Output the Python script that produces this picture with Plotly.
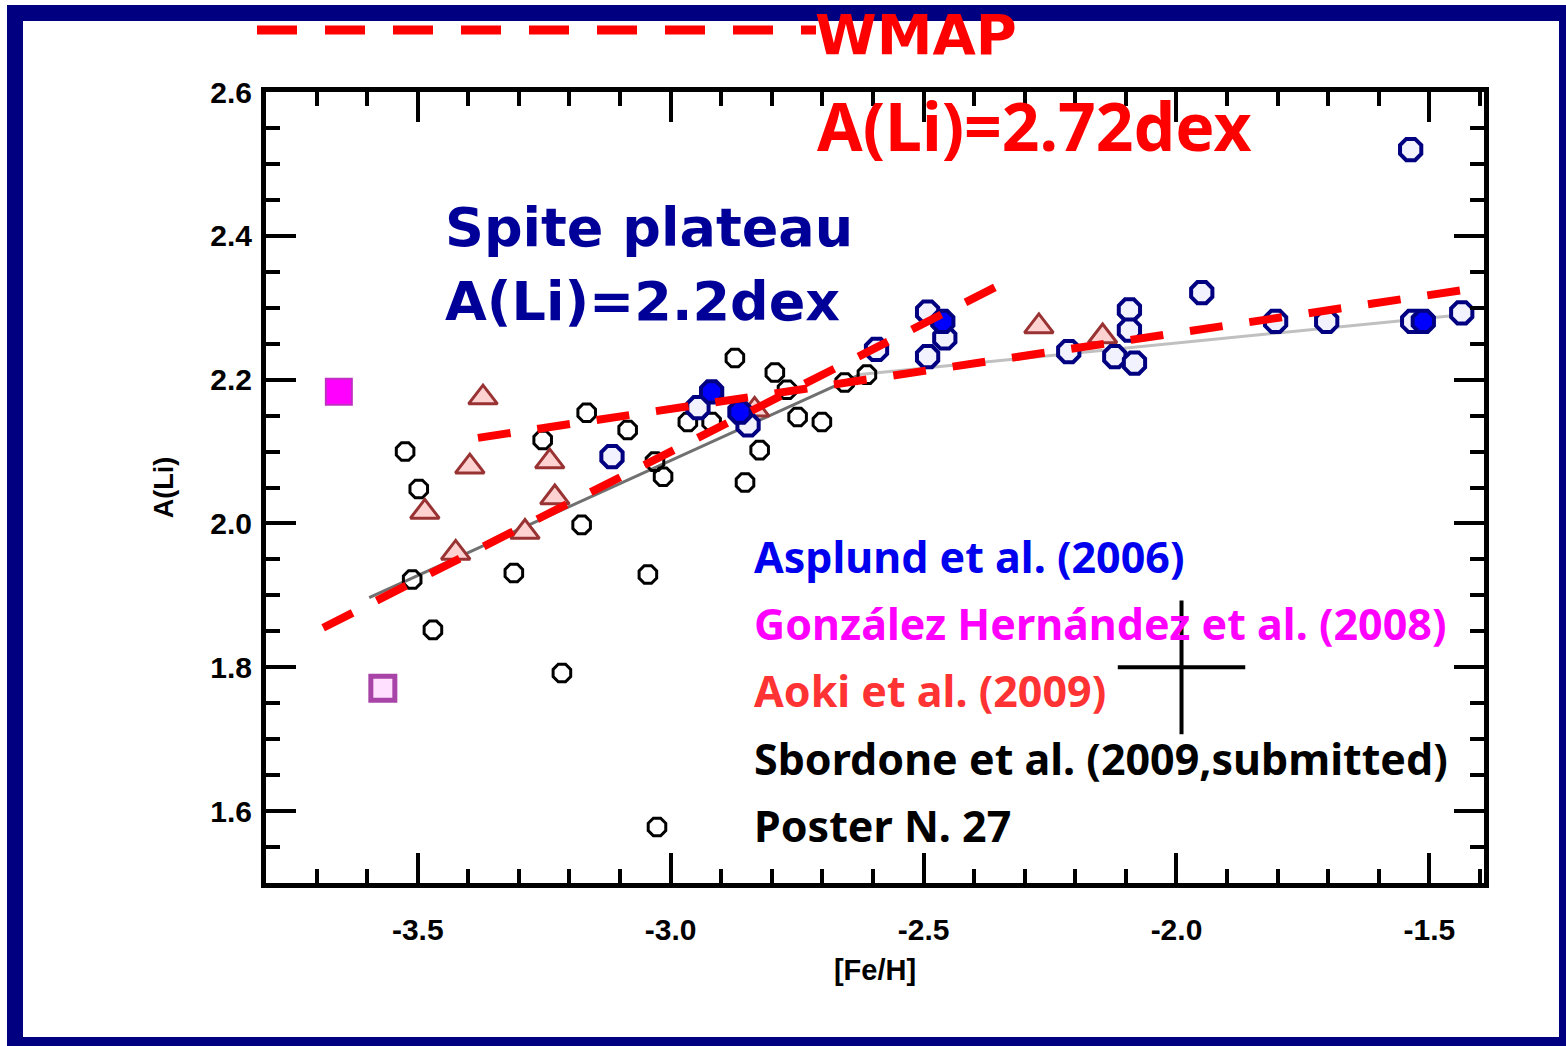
import plotly.graph_objects as go

# ---------------- data ----------------
sbordone_feh = [-3.525, -3.498, -3.511, -3.470, -3.253, -3.166, -3.085, -3.176, -3.310,
                -3.215, -3.045, -3.027, -3.031, -3.015, -2.873, -2.794, -2.770, -2.966,
                -2.919, -2.824, -2.853, -2.749, -2.701, -2.656, -2.612]
sbordone_li = [2.100, 2.048, 1.922, 1.852, 2.116, 2.154, 2.130, 1.998, 1.931,
               1.792, 1.929, 1.578, 2.086, 2.065, 2.230, 2.210, 2.186, 2.141,
               2.141, 2.102, 2.057, 2.148, 2.141, 2.196, 2.207]

aoki_feh = [-3.371, -3.397, -3.486, -3.425, -3.239, -3.229, -3.288, -2.834, -2.272, -2.146]
aoki_li = [2.175, 2.079, 2.016, 1.959, 2.086, 2.036, 1.988, 2.158, 2.274, 2.260]

asplund_open_feh = [-3.116, -2.946, -2.847, -2.593, -2.492, -2.458, -2.492, -2.213, -2.093,
                    -2.093, -2.122, -2.083, -1.950, -1.804, -1.703, -1.533, -1.436, -1.537]
asplund_open_li = [2.093, 2.161, 2.137, 2.242, 2.294, 2.258, 2.232, 2.239, 2.297,
                   2.269, 2.232, 2.223, 2.321, 2.281, 2.281, 2.281, 2.293, 2.520]
asplund_filled_feh = [-2.919, -2.863, -2.462, -1.512]
asplund_filled_li = [2.183, 2.155, 2.281, 2.281]

gonzalez_filled_feh = [-3.656]
gonzalez_filled_li = [2.183]
gonzalez_open_feh = [-3.569]
gonzalez_open_li = [1.771]

fit_steep_feh = [-3.687, -2.340]
fit_steep_li = [1.855, 2.335]
fit_flat_feh = [-3.381, -1.392]
fit_flat_li = [2.119, 2.329]
gray_dark_feh = [-3.596, -2.626]
gray_dark_li = [1.897, 2.207]
gray_light_feh = [-2.626, -1.440]
gray_light_li = [2.207, 2.290]

err_feh = [-1.99]
err_li = [1.80]
err_dfeh = [0.126]
err_dli = [0.093]

x_tickvals = [-3.5, -3.0, -2.5, -2.0, -1.5]
x_ticktext = ["-3.5", "-3.0", "-2.5", "-2.0", "-1.5"]
y_tickvals = [1.6, 1.8, 2.0, 2.2, 2.4, 2.6]
y_ticktext = ["1.6", "1.8", "2.0", "2.2", "2.4", "2.6"]

legend_labels = ["Asplund et al. (2006)", "González Hernández et al. (2008)",
                 "Aoki et al. (2009)", "Sbordone et al. (2009,submitted)", "Poster N. 27"]

# ---------------- layout helpers ----------------
W, H = 1566, 1046
ML, MR, MT, MB = 266, 82, 92, 163
PW = W - ML - MR
PH = H - MT - MB


def px_x(px):
    return (px - ML) / PW


def px_y(py):
    return (H - MB - py) / PH


TEXT_FONT = "Noto Sans, DejaVu Sans, sans-serif"
WIDE_FONT = "DejaVu Sans, Noto Sans, sans-serif"
AX_FONT = "Liberation Sans, Arial, sans-serif"
NAVY = "#000080"

fig = go.Figure()

# thin grey lines
fig.add_trace(go.Scatter(x=gray_dark_feh, y=gray_dark_li, mode="lines",
                         line=dict(color="#707070", width=3), showlegend=False, hoverinfo="skip"))
fig.add_trace(go.Scatter(x=gray_light_feh, y=gray_light_li, mode="lines",
                         line=dict(color="#c0c0c0", width=3), showlegend=False, hoverinfo="skip"))

# data points
fig.add_trace(go.Scatter(x=sbordone_feh, y=sbordone_li, mode="markers", name=legend_labels[3],
                         marker=dict(symbol="octagon-open", size=19, color="black",
                                     line=dict(width=3, color="black")), showlegend=False))
fig.add_trace(go.Scatter(x=aoki_feh, y=aoki_li, mode="markers", name=legend_labels[2],
                         marker=dict(symbol="triangle-up", size=25, color="#ffd2d2",
                                     line=dict(width=3, color="#993333")), showlegend=False))
fig.add_trace(go.Scatter(x=asplund_open_feh, y=asplund_open_li, mode="markers", name=legend_labels[0],
                         marker=dict(symbol="octagon", size=23, color="#f2f2ff",
                                     line=dict(width=4, color=NAVY)), showlegend=False))
fig.add_trace(go.Scatter(x=asplund_filled_feh, y=asplund_filled_li, mode="markers", name=legend_labels[0],
                         marker=dict(symbol="octagon", size=23, color="#0000ff",
                                     line=dict(width=4, color=NAVY)), showlegend=False))
fig.add_trace(go.Scatter(x=gonzalez_filled_feh, y=gonzalez_filled_li, mode="markers", name=legend_labels[1],
                         marker=dict(symbol="square", size=26, color="#ff00ff",
                                     line=dict(width=2, color="#c030c0")), showlegend=False))
fig.add_trace(go.Scatter(x=gonzalez_open_feh, y=gonzalez_open_li, mode="markers", name=legend_labels[1],
                         marker=dict(symbol="square", size=24, color="#ffe0ff",
                                     line=dict(width=5, color="#a844a8")), showlegend=False))

# red dashed fits
for fx, fy in ((fit_steep_feh, fit_steep_li), (fit_flat_feh, fit_flat_li)):
    fig.add_trace(go.Scatter(x=fx, y=fy, mode="lines",
                             line=dict(color="#ff0000", width=8, dash="33px,27px"),
                             showlegend=False, hoverinfo="skip"))

# typical error cross
fig.add_trace(go.Scatter(x=err_feh, y=err_li, mode="markers",
                         marker=dict(size=1, color="rgba(0,0,0,0)"),
                         error_x=dict(type="data", array=err_dfeh, color="black", thickness=4, width=0),
                         error_y=dict(type="data", array=err_dli, color="black", thickness=4, width=0),
                         showlegend=False))

# ---------------- annotations ----------------
ann = []


def text(px, py, s, color, size, family=TEXT_FONT):
    ann.append(dict(x=px_x(px), y=px_y(py), xref="paper", yref="paper", text=s,
                    showarrow=False, xanchor="left", yanchor="middle", align="left",
                    font=dict(family=family, size=size, color=color)))


text(813, 34, "<b>WMAP</b>", "#ff0000", 56, WIDE_FONT)
text(815, 125, "<b>A(Li)=2.72dex</b>", "#ff0000", 66)
text(443, 228, "<b>Spite plateau</b>", "#000099", 54, WIDE_FONT)
text(443, 301, "<b>A(Li)=2.2dex</b>", "#000099", 54, WIDE_FONT)

legend_colors = ["#0000ee", "#ff00ff", "#ff3333", "#000000", "#000000"]
legend_y = [556, 623, 690, 758, 825]
for lab, col, yy in zip(legend_labels, legend_colors, legend_y):
    text(752, yy, "<b>" + lab + "</b>", col, 43)

# ---------------- shapes (frame + WMAP key line) ----------------
shapes = []
for x0, y0, x1, y1 in ((7, 5, 23, 1046), (7, 5, 1566, 21), (1559, 5, 1566, 1046), (7, 1037, 1566, 1046)):
    shapes.append(dict(type="rect", xref="paper", yref="paper",
                       x0=px_x(x0), x1=px_x(x1), y0=px_y(y1), y1=px_y(y0),
                       fillcolor=NAVY, line=dict(width=0)))
shapes.append(dict(type="line", xref="paper", yref="paper",
                   x0=px_x(257), x1=px_x(816), y0=px_y(30), y1=px_y(30),
                   line=dict(color="#ff0000", width=9, dash="40px,28px")))

axis_common = dict(showline=True, linecolor="black", linewidth=5, mirror="ticks",
                   ticks="inside", ticklen=30, tickwidth=4, tickcolor="black",
                   showgrid=False, zeroline=False,
                   tickfont=dict(family=AX_FONT, size=30, color="black", weight="bold"))

fig.update_layout(
    width=W, height=H,
    margin=dict(l=ML, r=MR, t=MT, b=MB),
    paper_bgcolor="white", plot_bgcolor="white",
    xaxis=dict(range=[-3.8, -1.392], tickmode="array", tickvals=x_tickvals, ticktext=x_ticktext,
               minor=dict(tickmode="linear", tick0=-3.5, dtick=0.1, ticklen=14, tickwidth=4,
                          tickcolor="black", ticks="inside", showgrid=False),
               ticklabelstandoff=16,
               title=dict(text="<b>[Fe/H]</b>", font=dict(family=AX_FONT, size=29, color="black"),
                          standoff=16),
               **axis_common),
    yaxis=dict(range=[1.5, 2.6], tickmode="array", tickvals=y_tickvals, ticktext=y_ticktext,
               minor=dict(tickmode="linear", tick0=1.5, dtick=0.05, ticklen=14, tickwidth=4,
                          tickcolor="black", ticks="inside", showgrid=False),
               ticklabelstandoff=3,
               title=dict(text="<b>A(Li)</b>", font=dict(family=AX_FONT, size=27, color="black"),
                          standoff=30),
               **axis_common),
    annotations=ann,
    shapes=shapes,
    showlegend=False,
)

fig.write_html("out.html")
